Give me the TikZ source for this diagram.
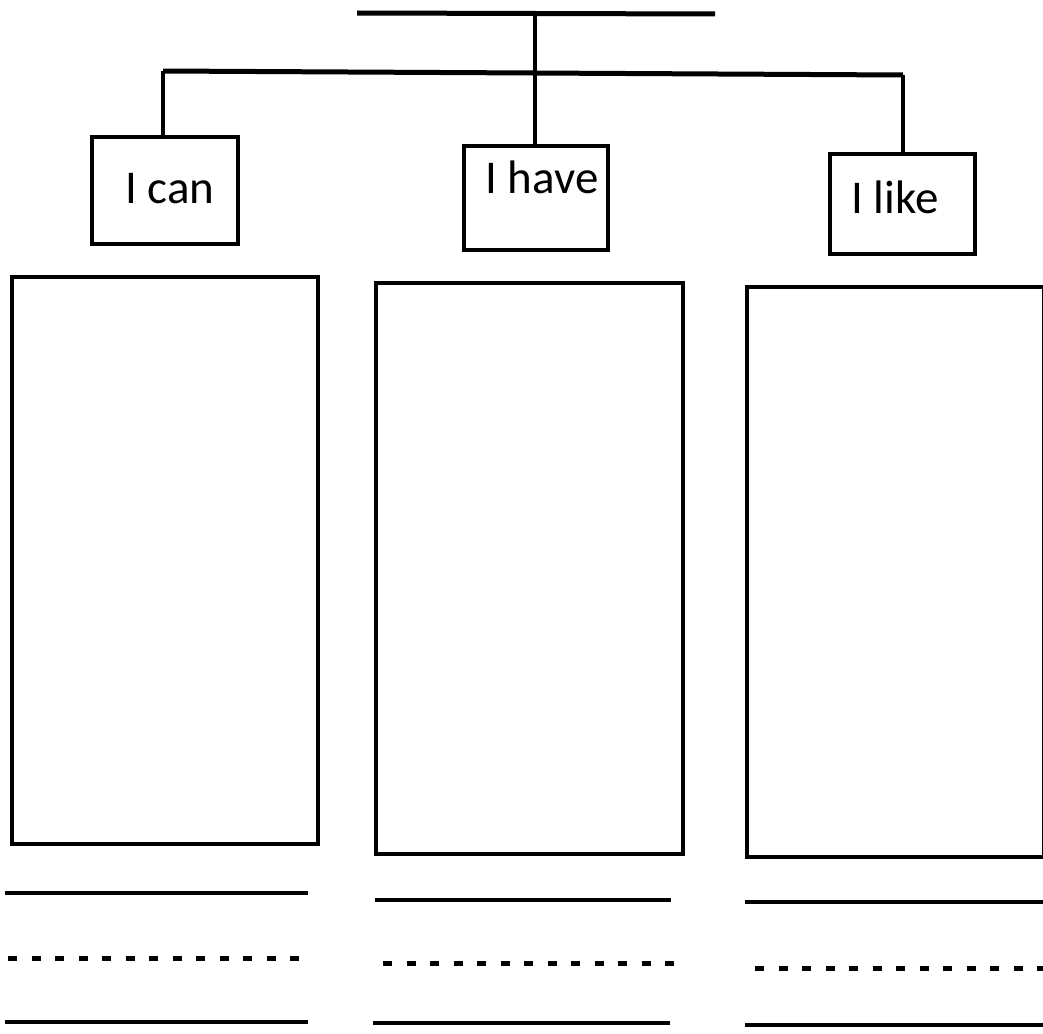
\documentclass[tikz,border=0pt]{standalone}
\usepackage{fontspec}
\setmainfont{Carlito}
\begin{document}
\begin{tikzpicture}[x=1pt,y=-1pt,
  thick line/.style={line width=5pt},
  conn/.style={line width=3.5pt},
  small box/.style={draw,line width=3.5pt,rectangle,inner sep=0pt,anchor=north west},
  big box/.style={draw,line width=3.5pt,rectangle,inner sep=0pt,anchor=north west},
  label text/.style={font=\fontsize{47}{56}\selectfont,inner sep=0pt},
  rule line/.style={line width=4pt},
  dot rule/.style={line width=5pt,dash pattern=on 9pt off 14.5pt}]
\useasboundingbox (0,0) rectangle (1043,1033);
% top title line and branches
\coordinate (t1) at (357,13);
\coordinate (t2) at (715,14);
\draw[thick line] (t1) -- (t2);
\coordinate (hub) at (535,13.5);
\coordinate (b1) at (163,71);
\coordinate (b2) at (535,73);
\coordinate (b3) at (903,75);
\draw[thick line] (b1) -- (b3);
% small boxes
\node[small box,minimum width=146pt,minimum height=107pt] (can) at (90,135) {};
\node[small box,minimum width=144pt,minimum height=104pt] (have) at (462,144) {};
\node[small box,minimum width=145pt,minimum height=100pt] (like) at (828,152) {};
\node[label text,anchor=base] (tcan) at (170,203) {I can};
\node[label text,anchor=base] (thave) at (542,193) {I have};
\node[label text,anchor=base] (tlike) at (895,213) {I like};
% connectors
\draw[conn] (hub) -- (b2) -- (have.north -| b2);
\draw[conn] (b1) -- (can.north -| b1);
\draw[conn] (b3) -- (like.north -| b3);
% big boxes
\node[big box,minimum width=306pt,minimum height=567pt] (bx1) at (10,275) {};
\node[big box,minimum width=307pt,minimum height=571pt] (bx2) at (374,281) {};
\node[big box,minimum width=297pt,minimum height=570pt] (bx3) at (745,285) {};
% writing lines
\draw[rule line] (5,893) -- (308,893);
\draw[dot rule] (8,958) -- (308,958);
\draw[rule line] (5,1022) -- (308,1022);
\draw[rule line] (375,900) -- (671,900);
\draw[dot rule] (383,963) -- (680,963);
\draw[rule line] (373,1023) -- (670,1023);
\draw[rule line] (745,902) -- (1043,902);
\draw[dot rule] (755,968) -- (1043,968);
\draw[rule line] (745,1025) -- (1043,1025);
\end{tikzpicture}
\end{document}
